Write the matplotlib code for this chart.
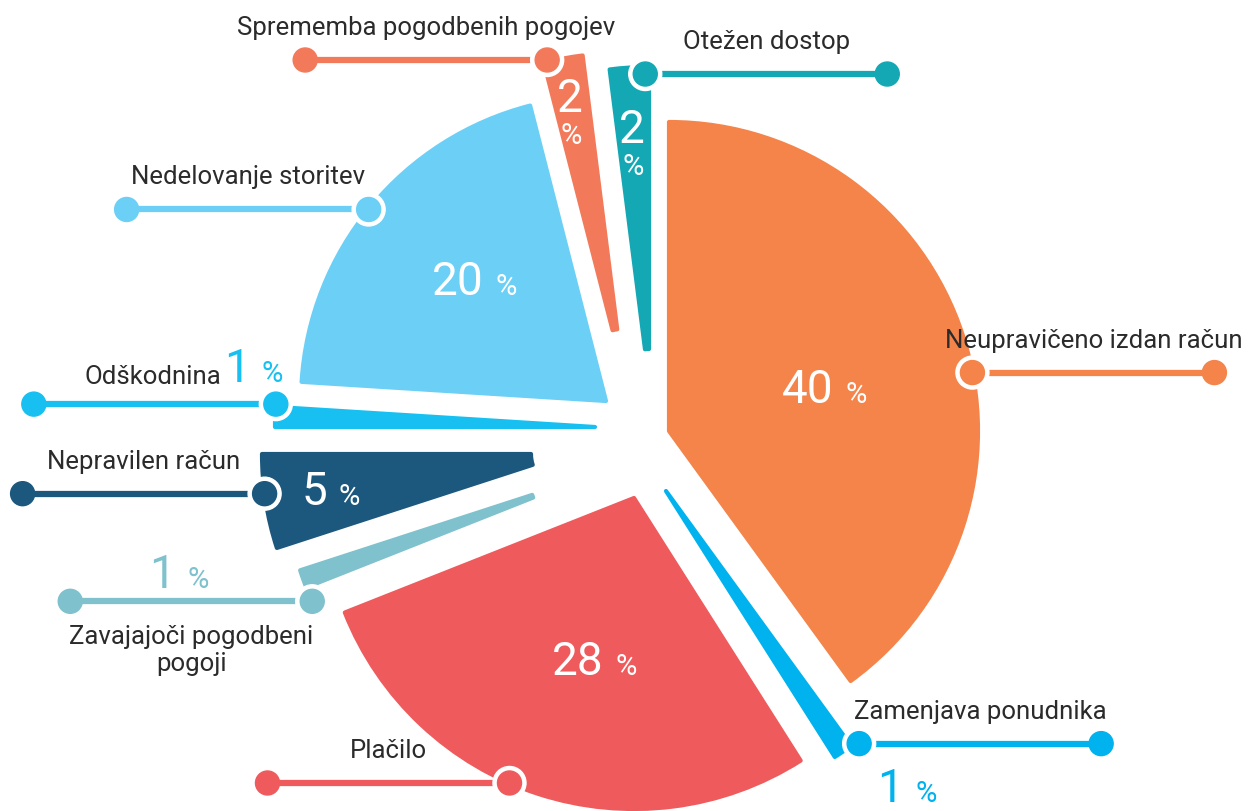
import matplotlib.pyplot as plt
from matplotlib.patches import Circle
import numpy as np

categories = ["Neupravičeno izdan račun", "Zamenjava ponudnika", "Plačilo",
              "Zavajajoči pogodbeni\npogoji", "Nepravilen račun", "Odškodnina",
              "Nedelovanje storitev", "Sprememba pogodbenih pogojev", "Otežen dostop"]
shares = [40, 1, 28, 1, 5, 1, 20, 2, 2]
colors = ["#F4844A", "#00B2EE", "#EF5A5C", "#7FC1CC", "#1C577E",
          "#17C0F0", "#6CCFF6", "#F27A5A", "#13A8B4"]

# layout, in pixels: shift of each slice from the pie centre, radius, inner cut
shift = [(29, 8), (26, -52), (-6, -59), (-65, -42), (-74, -15),
         (-45, 12), (-34, 38), (-18, 72), (9, 58)]
radii = [309, 315, 311, 289, 304, 320, 305, 314, 314]
inner = [0, 0, 0, 45, 35, 0, 0, 38, 32]
# connector: angle and distance (from slice apex) of the dot, side of the line
link_angle = [10.9, -52.6, -113.6, -155.4, -172.5, 175.9, 141.1, 103.7, 90.7]
link_dist = [309, 318, 311, 289, 304, 320, 305, 316, 307]
link_side = [1, 1, -1, -1, -1, -1, -1, -1, 1]
# percentage label: mode and offset (from slice apex for 'in'/'stack', from rim dot for 'out')
pct_mode = ["in", "out", "in", "out", "in", "out", "in", "stack", "stack"]
pct_off = [(171, 29), (50, -57), (-24, -176), (-131, 14), (-233, -50),
           (-20, 23), (-116, 107), (-52, 256), (-17, 239)]

W, H = 1249, 812
centre = (640, H - 440)
text_col = "#2B2B2B"
name_font = dict(family=["Roboto", "DejaVu Sans"], fontsize=18.5, color=text_col)
num_font = dict(family=["Roboto", "DejaVu Sans"], fontweight="normal")

fig = plt.figure(figsize=(W / 100, H / 100), dpi=100)
ax = fig.add_axes([0, 0, 1, 1])

wedges, _ = ax.pie(shares, colors=colors, startangle=90, counterclock=False,
                   radius=300, center=centre,
                   wedgeprops=dict(linewidth=3, joinstyle="round"))

line_len = 242
for i, w in enumerate(wedges):
    cx, cy = centre[0] + shift[i][0], centre[1] + shift[i][1]
    w.set_center((cx, cy))
    w.set_radius(radii[i])
    if inner[i]:
        w.set_width(radii[i] - inner[i])
    w.set_edgecolor(colors[i])

    # connector line with dots
    a = np.deg2rad(link_angle[i])
    dx, dy = cx + link_dist[i] * np.cos(a), cy + link_dist[i] * np.sin(a)
    ex = dx + link_side[i] * line_len
    ax.plot([dx, ex], [dy, dy], color=colors[i], lw=4.5, solid_capstyle="butt", zorder=3)
    ax.add_patch(Circle((ex, dy), 12, color=colors[i], zorder=4))
    ax.add_patch(Circle((dx, dy), 16.5, color="white", zorder=4))
    ax.add_patch(Circle((dx, dy), 12, color=colors[i], zorder=5))

    mid = (dx + ex) / 2
    num = str(shares[i])
    ox, oy = pct_off[i]

    if pct_mode[i] == "in":
        px, py = cx + ox, cy + oy
        ax.text(px - 6, py, num, color="white", fontsize=33, ha="right", va="baseline", zorder=6, **num_font)
        ax.text(px + 6, py, "%", color="white", fontsize=21, ha="left", va="baseline", zorder=6, **num_font)
    elif pct_mode[i] == "stack":
        px, py = cx + ox, cy + oy
        ax.text(px, py, num, color="white", fontsize=33, ha="center", va="baseline", zorder=6, **num_font)
        ax.text(px + 1, py - 32, "%", color="white", fontsize=21, ha="center", va="baseline", zorder=6, **num_font)
    else:
        px, py = dx + ox, dy + oy
        ax.text(px - 6, py, num, color=colors[i], fontsize=33, ha="right", va="baseline", zorder=6, **num_font)
        ax.text(px + 6, py, "%", color=colors[i], fontsize=21, ha="left", va="baseline", zorder=6, **num_font)

    # category name
    if i == 3:
        ax.text(mid, dy - 48, categories[i], ha="center", va="center",
                linespacing=1.15, zorder=6, **name_font)
    elif i == 5:
        ax.text(px - 35, py - 2, categories[i], ha="right", va="baseline", zorder=6, **name_font)
    else:
        ax.text(mid, dy + 33, categories[i], ha="center", va="center", zorder=6, **name_font)

ax.set_xlim(0, W)
ax.set_ylim(0, H)
ax.set_aspect("equal")
ax.axis("off")

fig.savefig("out.png", dpi=100, facecolor="white")
